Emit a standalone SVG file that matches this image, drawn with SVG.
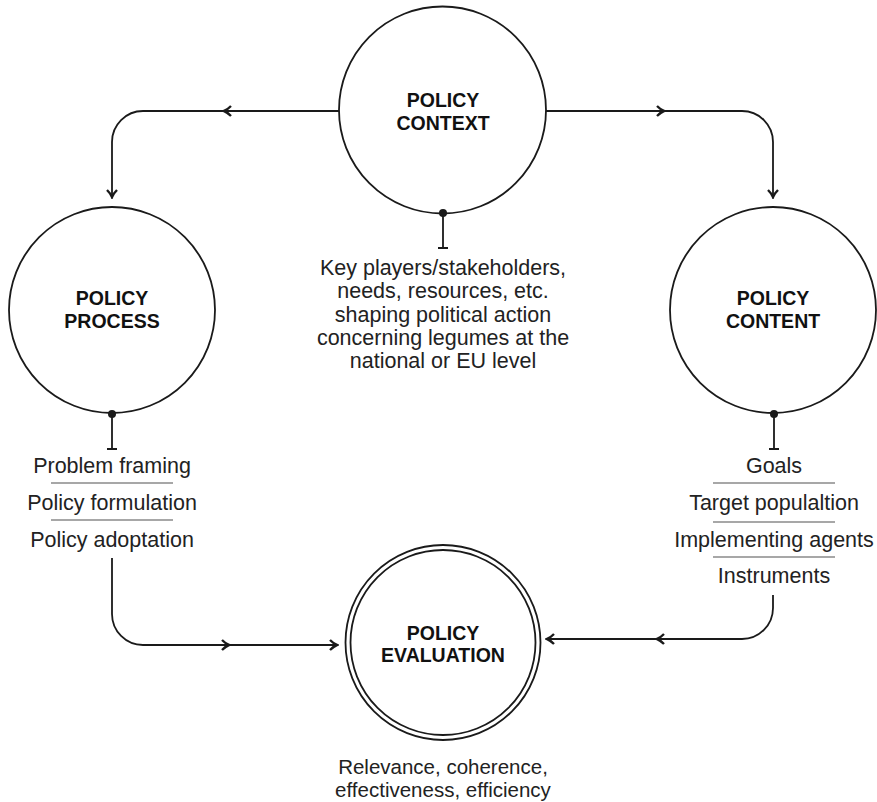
<svg xmlns="http://www.w3.org/2000/svg" width="877" height="802" viewBox="0 0 877 802">
<style>
.bg{fill:#ffffff}
.node{fill:none;stroke:#1a1a1a;stroke-width:1.8}
.title{font-family:"Liberation Sans",Arial,sans-serif;font-weight:bold;font-size:19.5px;fill:#111;text-anchor:middle}
.lbl{font-family:"Liberation Sans",Arial,sans-serif;font-size:21.5px;fill:#222;text-anchor:middle}
.lbl2{font-family:"Liberation Sans",Arial,sans-serif;font-size:20.5px;fill:#222;text-anchor:middle}
.conn{fill:none;stroke:#1a1a1a;stroke-width:1.8}
.sep{stroke:#8a8a8a;stroke-width:1.3}
.chev{fill:none;stroke:#1a1a1a;stroke-width:2.4;stroke-linejoin:miter}
.dot{fill:#1a1a1a}
</style>
<defs>
<marker id="arr" markerUnits="userSpaceOnUse" viewBox="-10 -7 12 14" refX="0" refY="0" markerWidth="12" markerHeight="14" orient="auto">
<path d="M -7 -5 Q -3 -1 0 0 Q -3 1 -7 5" fill="none" stroke="#1a1a1a" stroke-width="2.4"/>
</marker>
<path id="ch" d="M -7 -5 Q -3 -1 0 0 Q -3 1 -7 5" class="chev"/>
</defs>
<rect class="bg" x="0" y="0" width="877" height="802"/>

<g id="connectors">
<path class="conn" d="M 339 111 H 143 A 31 31 0 0 0 112 142 V 197" marker-end="url(#arr)"/>
<use href="#ch" transform="translate(224 111) rotate(180)"/>
<path class="conn" d="M 546 111 H 742 A 31 31 0 0 1 773 142 V 197" marker-end="url(#arr)"/>
<use href="#ch" transform="translate(664 111)"/>
<path class="conn" d="M 112 558 V 614 A 31 31 0 0 0 143 645 H 337" marker-end="url(#arr)"/>
<use href="#ch" transform="translate(229 645)"/>
<path class="conn" d="M 773 595 V 608 A 31 31 0 0 1 742 639 H 547" marker-end="url(#arr)"/>
<use href="#ch" transform="translate(657 639) rotate(180)"/>
<path class="conn" d="M 443 213 V 248 M 438 248 H 448"/>
<path class="conn" d="M 112 414 V 449 M 107 449 H 117"/>
<path class="conn" d="M 774 414 V 449 M 769 449 H 779"/>
</g>

<g id="policy-context">
<circle class="node" cx="442.5" cy="110" r="103.5"/>
<text class="title" x="443" y="107">POLICY</text>
<text class="title" x="443" y="130">CONTEXT</text>
<circle class="dot" cx="443" cy="213" r="4"/>
<text class="lbl" x="443" y="275">Key players/stakeholders,</text>
<text class="lbl" x="443" y="298">needs, resources, etc.</text>
<text class="lbl" x="443" y="321.5">shaping political action</text>
<text class="lbl" x="443" y="345">concerning legumes at the</text>
<text class="lbl" x="443" y="368">national or EU level</text>
</g>

<g id="policy-process">
<circle class="node" cx="112" cy="310" r="103"/>
<text class="title" x="112" y="305">POLICY</text>
<text class="title" x="112" y="328">PROCESS</text>
<circle class="dot" cx="112" cy="414" r="4"/>
<text class="lbl" x="112" y="473">Problem framing</text>
<line class="sep" x1="51" y1="483" x2="173" y2="483"/>
<text class="lbl" x="112" y="510">Policy formulation</text>
<line class="sep" x1="51" y1="520" x2="173" y2="520"/>
<text class="lbl" x="112" y="546.5">Policy adoptation</text>
</g>

<g id="policy-content">
<circle class="node" cx="773" cy="310" r="103"/>
<text class="title" x="773" y="305">POLICY</text>
<text class="title" x="773" y="328">CONTENT</text>
<circle class="dot" cx="774" cy="414" r="4"/>
<text class="lbl" x="774" y="473">Goals</text>
<line class="sep" x1="713" y1="483" x2="835" y2="483"/>
<text class="lbl" x="774" y="510">Target populaltion</text>
<line class="sep" x1="713" y1="522" x2="835" y2="522"/>
<text class="lbl" x="774" y="546.5">Implementing agents</text>
<line class="sep" x1="713" y1="557" x2="835" y2="557"/>
<text class="lbl" x="774" y="583">Instruments</text>
</g>

<g id="policy-evaluation">
<circle class="node" cx="443" cy="642.5" r="97.5"/>
<circle class="node" cx="443" cy="642.5" r="92.5"/>
<text class="title" x="443" y="640">POLICY</text>
<text class="title" x="443" y="662">EVALUATION</text>
<text class="lbl2" x="443" y="774">Relevance, coherence,</text>
<text class="lbl2" x="443" y="797">effectiveness, efficiency</text>
</g>
</svg>
